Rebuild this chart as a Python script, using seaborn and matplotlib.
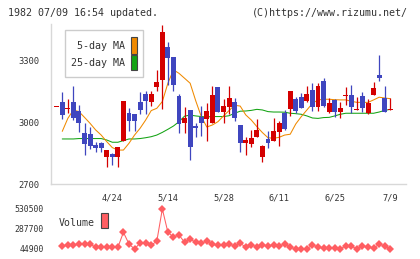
"""Daily candlestick chart with 5/25-day MAs and a volume strip (rizumu style)."""
import matplotlib
matplotlib.use("Agg")
import matplotlib.pyplot as plt
import numpy as np
import pandas as pd
import seaborn as sns
from matplotlib.patches import Rectangle

# --- data ------------------------------------------------------------------
open_ = [3078, 3099, 3068, 3099, 3055, 2948, 2943, 2890, 2900, 2830,
         2844, 2830, 2909, 3044, 3039, 3101, 3138, 3101, 3173, 3206,
         3366, 3318, 3126, 2997, 3060, 2982, 3024, 3018, 2998, 3172,
         3052, 3076, 3099, 2987, 2901, 2896, 2930, 2833, 2919, 2911,
         2955, 3047, 3065, 3113, 3123, 3104, 3157, 3076, 3201, 3052,
         3107, 3052, 3131, 3131, 3060, 3128, 3047, 3135, 3229, 3118,
         3060]
high = [3078, 3149, 3112, 3177, 3084, 2995, 2979, 2904, 2904, 2865,
        2852, 2880, 3104, 3070, 3039, 3149, 3154, 3154, 3255, 3473,
        3391, 3318, 3138, 3073, 3060, 2998, 3079, 3092, 3177, 3172,
        3113, 3177, 3118, 2987, 2930, 2963, 3016, 2890, 2958, 3021,
        3006, 3060, 3152, 3123, 3143, 3177, 3191, 3191, 3216, 3118,
        3112, 3097, 3172, 3182, 3122, 3148, 3112, 3196, 3328, 3177,
        3118]
low = [3078, 3016, 3047, 3011, 2953, 2843, 2872, 2857, 2854, 2784,
       2791, 2784, 2909, 2959, 2959, 3039, 3039, 3079, 3151, 3065,
       3182, 3152, 2950, 2950, 2817, 2930, 2934, 2911, 2998, 3052,
       2998, 3039, 3008, 2857, 2841, 2882, 2927, 2809, 2877, 2909,
       2887, 2963, 3032, 3047, 3071, 3097, 3057, 3057, 3073, 3047,
       3028, 3021, 3083, 3044, 3060, 3052, 3041, 3135, 3201, 3052,
       3060]
close = [3078, 3037, 3068, 3023, 2995, 2893, 2887, 2874, 2874, 2865,
         2833, 2880, 3104, 3008, 3008, 3060, 3105, 3138, 3196, 3439,
         3315, 3183, 2994, 3019, 2882, 2974, 2995, 3055, 3133, 3052,
         3079, 3118, 3023, 2901, 2914, 2924, 2963, 2885, 2901, 2958,
         2997, 2966, 3152, 3057, 3071, 3138, 3076, 3177, 3079, 3092,
         3052, 3068, 3131, 3076, 3060, 3068, 3092, 3167, 3217, 3052,
         3060]
ma5 = [np.nan, 2956, 3019, 3060, 3052, 3024, 2995, 2963, 2938, 2906,
       2877, 2865, 2865, 2898, 2938, 2971, 3011, 3057, 3068, 3101,
       3190, 3255, 3238, 3214, 3190, 3105, 3028, 2977, 2987, 3003,
       3031, 3057, 3083, 3079, 3036, 3011, 2979, 2950, 2925, 2922,
       2927, 2938, 2942, 2992, 3028, 3060, 3092, 3109, 3112, 3112,
       3110, 3109, 3109, 3102, 3097, 3097, 3097, 3109, 3122, 3118,
       3115]
ma25 = [np.nan, 2919, 2919, 2919, 2921, 2921, 2921, 2921, 2921, 2914,
        2903, 2903, 2911, 2919, 2919, 2921, 2925, 2930, 2938, 2951,
        2966, 2982, 3003, 3030, 3035, 3031, 3028, 3026, 3028, 3028,
        3028, 3032, 3044, 3054, 3055, 3058, 3063, 3060, 3052, 3050,
        3050, 3049, 3044, 3042, 3039, 3031, 3021, 3019, 3023, 3024,
        3031, 3039, 3044, 3044, 3044, 3044, 3044, 3044, 3050, 3058,
        3063]
volume = [np.nan, 81300, 89400, 93500, 101600, 109600, 101600, 69200, 73200, 69200,
          65100, 65100, 247200, 105600, 44900, 117700, 113700, 93500, 138000, 530500,
          247200, 190600, 214900, 125800, 166300, 125800, 117700, 138000, 101600, 89400,
          97500, 105600, 81300, 113700, 69200, 97500, 69200, 93500, 81300, 97500,
          81300, 105600, 65100, 47000, 47000, 47000, 93500, 69200, 53000, 53000,
          53000, 47000, 81300, 77300, 47000, 81300, 69200, 53000, 105600, 81300,
          47000]
date_label_idx = [10, 20, 30, 40, 50, 60]
date_labels = ["4/24", "5/14", "5/28", "6/11", "6/25", "7/9"]
price_ticks = [2700, 3000, 3300]
volume_ticks = [44900, 287700, 530500]

df = pd.DataFrame({"day": np.arange(len(close)), "open": open_, "high": high,
                   "low": low, "close": close, "ma5": ma5, "ma25": ma25,
                   "volume": volume})

# --- style --------------------------------------------------------------------
UP, DOWN = "#d40000", "#3f46bf"
ORANGE, GREEN, VOL = "#f08a00", "#13a313", "#ff5e62"
AXIS, TEXT = "#d8d8d8", "#333333"

sns.set_style("white")
plt.rcParams["font.family"] = ["DejaVu Sans Mono"]

W, H = 420, 259
fig = plt.figure(figsize=(W / 100, H / 100), dpi=100)


def fx(px):
    return px / W


def fy(py):
    return 1 - py / H


X0, X1 = 50.7, 405.7
XLIM = (-1.08, 62.77)

# --- price panel ---------------------------------------------------------------
ax = fig.add_axes([fx(X0), fy(184), fx(X1) - fx(X0), fy(24) - fy(184)])
sns.lineplot(data=df, x="day", y="ma25", color=GREEN, lw=0.75, ax=ax, zorder=2)
sns.lineplot(data=df, x="day", y="ma5", color=ORANGE, lw=0.75, ax=ax, zorder=2)

colors = np.where(df["close"] >= df["open"], UP, DOWN)
ax.vlines(df["day"], df["low"], df["high"], colors=colors, lw=0.9, zorder=3)
body = (df["close"] - df["open"]).abs()
body_h = np.maximum(body, 5)
body_lo = np.minimum(df["open"], df["close"]) - (body_h - body) / 2
ax.bar(df["day"], body_h, bottom=body_lo, width=0.88, color=colors,
       linewidth=0, zorder=3)

ax.set_xlim(*XLIM)
ax.set_ylim(2700, 3478)
for s in ["top", "right"]:
    ax.spines[s].set_visible(False)
for s in ["left", "bottom"]:
    ax.spines[s].set_color(AXIS)
    ax.spines[s].set_linewidth(1)
ax.set_xlabel("")
ax.set_ylabel("")
ax.set_xticks(date_label_idx)
ax.set_xticklabels(date_labels)
ax.set_xticks(np.linspace(XLIM[0], XLIM[1], 12), minor=True)
ax.tick_params(axis="x", which="major", length=0, pad=7, labelsize=6.2,
               labelcolor=TEXT)
ax.tick_params(axis="x", which="minor", length=5, width=1, direction="inout",
               color=AXIS)
ax.set_yticks(price_ticks)
ax.set_yticklabels([str(t) for t in price_ticks])
ax.tick_params(axis="y", length=7, width=1, direction="inout", color=AXIS,
               pad=4.8, labelsize=6.3, labelcolor=TEXT)

# MA legend box
fig.add_artist(Rectangle((fx(65), fy(77)), fx(143) - fx(65), fy(30) - fy(77),
                         transform=fig.transFigure, facecolor="white",
                         edgecolor="#cccccc", lw=1, zorder=5))
for label, col, ty, sy0, sy1 in [("5-day MA", ORANGE, 46, 37.3, 54),
                                 ("25-day MA", GREEN, 63, 54.7, 70)]:
    fig.text(fx(125), fy(ty), label, ha="right", va="center", fontsize=7.2,
             color=TEXT, zorder=6)
    fig.add_artist(Rectangle((fx(131), fy(sy1)), fx(137.3) - fx(131),
                             fy(sy0) - fy(sy1), transform=fig.transFigure,
                             facecolor=col, edgecolor="#444444", lw=0.8,
                             zorder=6))

# --- volume panel -----------------------------------------------------------------
axv = fig.add_axes([fx(X0), fy(255), fx(X1) - fx(X0), fy(203) - fy(255)])
sns.lineplot(data=df, x="day", y="volume", color=VOL, lw=0.75, marker="D",
             markersize=4, markeredgewidth=0, ax=axv)
axv.set_xlim(*XLIM)
axv.set_ylim(44900 - 6 * 12140, 44900 + 46 * 12140)
for s in axv.spines.values():
    s.set_visible(False)
axv.set_xticks([])
axv.set_xlabel("")
axv.set_ylabel("")
axv.set_yticks(volume_ticks)
axv.set_yticklabels([str(t) for t in volume_ticks])
axv.tick_params(axis="y", length=0, pad=4.8, labelsize=5.9, labelcolor=TEXT)

fig.text(fx(59), fy(222.7), "Volume", ha="left", va="center", fontsize=7.1,
         color=TEXT)
fig.add_artist(Rectangle((fx(101.3), fy(228.3)), fx(108) - fx(101.3),
                         fy(213.3) - fy(228.3), transform=fig.transFigure,
                         facecolor=VOL, edgecolor="#444444", lw=0.8))

# --- header --------------------------------------------------------------------------
fig.text(fx(8), fy(13), "1982 07/09 16:54 updated.", ha="left", va="center",
         fontsize=7.2, color=TEXT)
fig.text(fx(408), fy(13), "(C)https://www.rizumu.net/", ha="right",
         va="center", fontsize=7.2, color=TEXT)

fig.savefig("out.png", dpi=100)
